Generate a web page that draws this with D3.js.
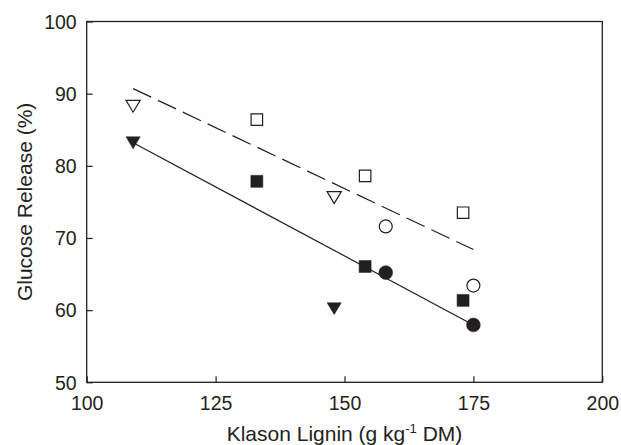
<!DOCTYPE html>
<html>
<head>
<meta charset="utf-8">
<script src="https://cdn.jsdelivr.net/npm/d3@7"></script>
<style>
  body { margin: 0; background: #fff; }
  text { font-family: "Liberation Sans", Arial, Helvetica, sans-serif; fill: #231f20; }
</style>
</head>
<body>
<script>
// tick values
var xTicks = [100, 125, 150, 175, 200];
var yTicks = [50, 60, 70, 80, 90, 100];

// triangles (down)
var openTriX = [109, 148];
var openTriY = [88.25, 75.6];
var fillTriX = [109, 148];
var fillTriY = [83.2, 60.2];

// squares
var openSqX = [133, 154, 173];
var openSqY = [86.4, 78.6, 73.5];
var fillSqX = [133, 154, 173];
var fillSqY = [77.85, 66.05, 61.35];

// circles
var openCircX = [158, 175];
var openCircY = [71.6, 63.4];
var fillCircX = [158, 175];
var fillCircY = [65.2, 57.95];

// regression lines (end points)
var dashX = [109, 175];
var dashY = [90.7, 68.4];
var solidX = [109, 175];
var solidY = [83.2, 57.95];

var svgWidth = 621, svgHeight = 445;
var margin = {top: 21.5, right: 18.7, bottom: 62.7, left: 86.7};
var w = svgWidth - margin.left - margin.right;
var h = svgHeight - margin.top - margin.bottom;
var ink = '#231f20';

var svg = d3.select('body').append('svg')
    .attr('width', svgWidth).attr('height', svgHeight);
var g = svg.append('g')
    .attr('transform', 'translate(' + margin.left + ',' + margin.top + ')');

var xScale = d3.scaleLinear().domain([100, 200]).range([0, w]);
var yScale = d3.scaleLinear().domain([50, 100]).range([h, 0]);

var x_axis = d3.axisBottom(xScale).tickValues(xTicks).tickSizeInner(-6).tickSizeOuter(0);
var y_axis = d3.axisLeft(yScale).tickValues(yTicks).tickSizeInner(-6).tickSizeOuter(0);

var gx = g.append('g').attr('transform', 'translate(0,' + h + ')').call(x_axis);
var gy = g.append('g').call(y_axis);

[gx, gy].forEach(function (a) {
  a.select('.domain').remove();
  a.selectAll('line').attr('stroke', ink).attr('stroke-width', 1.2);
  a.selectAll('text').attr('font-size', '19.5px').attr('fill', ink)
    .style('font-family', '"Liberation Sans", Arial, sans-serif');
});
gx.selectAll('text').attr('y', 27.6).attr('dy', null);
gy.selectAll('text').attr('x', -10).attr('dy', '0.35em');

// frame
g.append('rect')
    .attr('width', w).attr('height', h)
    .attr('fill', 'none').attr('stroke', ink).attr('stroke-width', 1.3);

// lines
var line = d3.line().x(d => xScale(d[0])).y(d => yScale(d[1]));
g.append('path')
    .attr('d', line(d3.zip(dashX, dashY)))
    .attr('fill', 'none').attr('stroke', ink).attr('stroke-width', 1.2)
    .attr('stroke-dasharray', '20,7.5');
g.append('path')
    .attr('d', line(d3.zip(solidX, solidY)))
    .attr('fill', 'none').attr('stroke', ink).attr('stroke-width', 1.2);

// down triangle centred on its box
var triDown = {
  draw: function (ctx, size) {
    var s = Math.sqrt(size);
    ctx.moveTo(-s * 0.6, -s * 0.5);
    ctx.lineTo(s * 0.6, -s * 0.5);
    ctx.lineTo(0, s * 0.5);
    ctx.closePath();
  }
};

function markers(xs, ys, type, size, filled) {
  g.append('g').selectAll('path')
    .data(d3.zip(xs, ys))
    .enter().append('path')
    .attr('d', d3.symbol().type(type).size(size))
    .attr('transform', d => 'translate(' + xScale(d[0]) + ',' + yScale(d[1]) + ')')
    .attr('fill', filled ? ink : '#fff')
    .attr('stroke', ink)
    .attr('stroke-width', filled ? 0.5 : 1.2);
}

markers(openTriX, openTriY, triDown, 140, false);
markers(fillTriX, fillTriY, triDown, 140, true);
markers(openSqX, openSqY, d3.symbolSquare, 132, false);
markers(fillSqX, fillSqY, d3.symbolSquare, 144, true);
markers(openCircX, openCircY, d3.symbolCircle, 132, false);
markers(fillCircX, fillCircY, d3.symbolCircle, 150, true);

// axis titles
svg.append('text')
    .attr('x', margin.left + w / 2).attr('y', 441)
    .attr('text-anchor', 'middle').attr('font-size', '21px')
    .text('Klason Lignin (g kg')
    .append('tspan').attr('font-size', '13px').attr('dy', '-8').text('-1')
    .select(function () { return this.parentNode; })
    .append('tspan').attr('dy', '8').text(' DM)');

svg.append('text')
    .attr('transform', 'translate(31.5,' + (margin.top + h / 2) + ') rotate(-90)')
    .attr('text-anchor', 'middle').attr('font-size', '21px')
    .text('Glucose Release (%)');
</script>
</body>
</html>
